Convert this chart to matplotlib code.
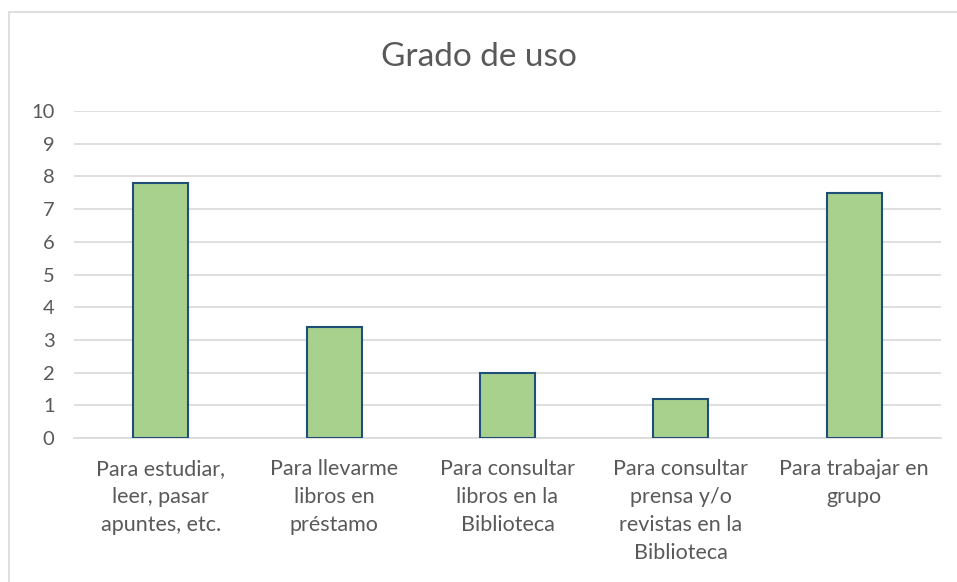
import matplotlib
matplotlib.use("Agg")
import matplotlib.pyplot as plt
from matplotlib.patches import Rectangle

categories = ["Para estudiar,\nleer, pasar\napuntes, etc.",
              "Para llevarme\nlibros en\npréstamo",
              "Para consultar\nlibros en la\nBiblioteca",
              "Para consultar\nprensa y/o\nrevistas en la\nBiblioteca",
              "Para trabajar en\ngrupo"]
values = [7.8, 3.4, 2.0, 1.2, 7.5]
yticks = list(range(0, 11))
title = "Grado de uso"

plt.rcParams['font.family'] = ['Lato', 'DejaVu Sans']

W, H = 957, 582
fig = plt.figure(figsize=(W/100, H/100), dpi=100)
ax = fig.add_axes([74/W, 1-438/H, (941-74)/W, (438-111)/H])

x = list(range(len(categories)))
ax.bar(x, values, width=0.317, color='#a9d18e', edgecolor='#1f4e79', linewidth=1.5, zorder=3)
ax.set_xlim(-0.5, len(categories)-0.5)
ax.set_ylim(0, 10)
ax.set_yticks(yticks)
ax.set_yticklabels([str(t) for t in yticks], fontsize=14.5, color='#595959')
ax.set_xticks(x)
ax.set_xticklabels(categories, fontsize=15.5, color='#595959', linespacing=1.5, va='top')
ax.tick_params(axis='both', length=0)
ax.tick_params(axis='y', pad=14)
ax.tick_params(axis='x', pad=15)
ax.grid(axis='y', color='#d9d9d9', linewidth=1.2, zorder=0)
for s in ['top', 'right', 'left']:
    ax.spines[s].set_visible(False)
ax.spines['bottom'].set_color('#d9d9d9')
ax.spines['bottom'].set_linewidth(1.2)

fig.text(0.5, 1-57/H, title, ha='center', va='center', fontsize=24, color='#595959')

fig.patches.append(Rectangle((9/W, -0.1), 1.2, 1-12/H+0.1, transform=fig.transFigure,
                             fill=False, edgecolor='#d9d9d9', linewidth=1.2))

fig.savefig("out.png", dpi=100)
